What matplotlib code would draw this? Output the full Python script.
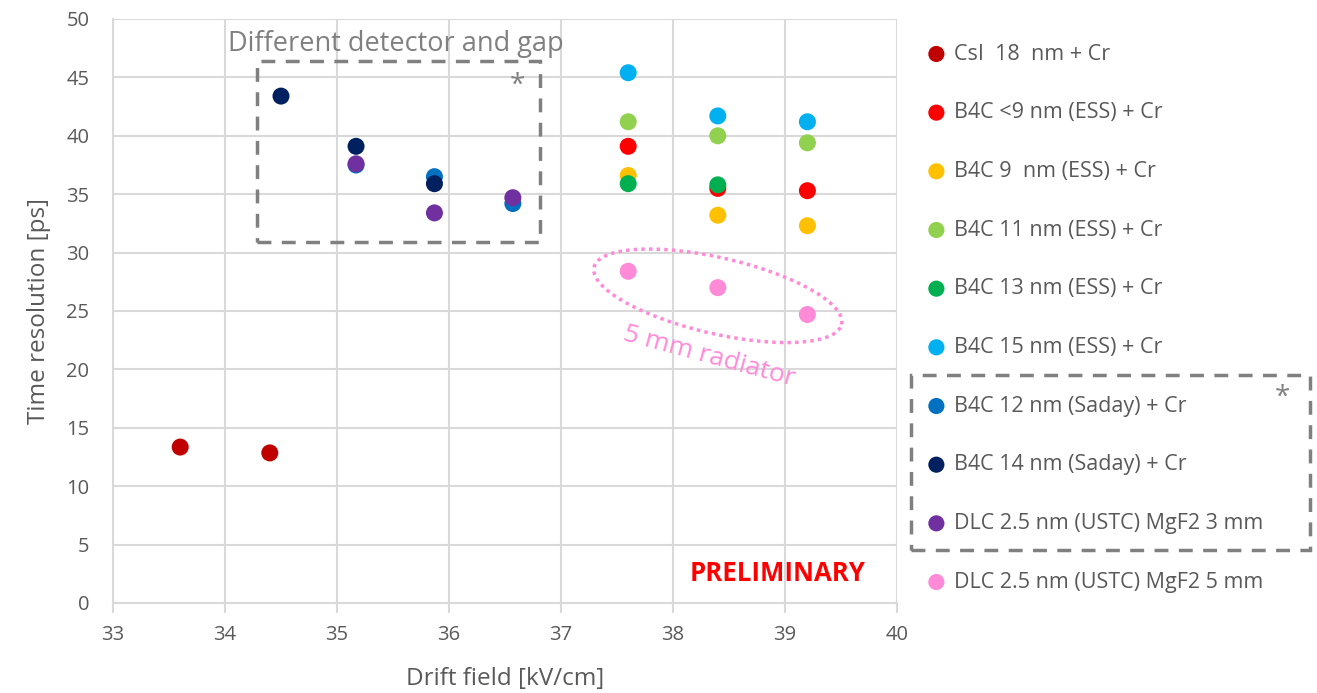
import matplotlib
matplotlib.use("Agg")
import matplotlib.pyplot as plt
from matplotlib.patches import Rectangle
import numpy as np

plt.rcParams['font.family'] = ['Open Sans', 'DejaVu Sans']

#--- Time resolution vs drift field for each photocathode
labels = ["CsI  18  nm + Cr",
          "B4C <9 nm (ESS) + Cr",
          "B4C 9  nm (ESS) + Cr",
          "B4C 11 nm (ESS) + Cr",
          "B4C 13 nm (ESS) + Cr",
          "B4C 15 nm (ESS) + Cr",
          "B4C 12 nm (Saday) + Cr",
          "B4C 14 nm (Saday) + Cr",
          "DLC 2.5 nm (USTC) MgF2 3 mm",
          "DLC 2.5 nm (USTC) MgF2 5 mm"]
colors = ["#C00000", "#FF0000", "#FFC000", "#92D050", "#00B050",
          "#00B0F0", "#0070C0", "#002060", "#7030A0", "#FF8AD8"]

field_csi = [33.6, 34.4]
res_csi = [13.35, 12.85]
field_ess = [37.6, 38.4, 39.2]
res_b4c_lt9 = [39.1, 35.5, 35.3]
res_b4c_9 = [36.6, 33.2, 32.3]
res_b4c_11 = [41.2, 40.0, 39.4]
field_b4c_13 = [37.6, 38.4]
res_b4c_13 = [35.9, 35.8]
res_b4c_15 = [45.4, 41.7, 41.2]
field_saday12 = [35.17, 35.87, 36.57]
res_saday12 = [37.5, 36.5, 34.2]
field_saday14 = [34.5, 35.17, 35.87]
res_saday14 = [43.4, 39.1, 35.9]
field_dlc3 = [35.17, 35.87, 36.57]
res_dlc3 = [37.6, 33.4, 34.7]
field_dlc5 = [37.6, 38.4, 39.2]
res_dlc5 = [28.4, 27.0, 24.7]

series = [(field_csi, res_csi), (field_ess, res_b4c_lt9), (field_ess, res_b4c_9),
          (field_ess, res_b4c_11), (field_b4c_13, res_b4c_13), (field_ess, res_b4c_15),
          (field_saday12, res_saday12), (field_saday14, res_saday14),
          (field_dlc3, res_dlc3), (field_dlc5, res_dlc5)]

W, H = 1317, 693
grey = "#595959"
fig = plt.figure(figsize=(W / 100, H / 100), dpi=100)
ax = fig.add_axes([113 / W, 1 - 603 / H, (897 - 113) / W, (603 - 19) / H])

# draw order: Saday 12 under the others in the boxed group
order = [0, 1, 2, 3, 5, 4, 6, 8, 7, 9]
handles = {}
for i in order:
    x, y = series[i]
    handles[i] = ax.scatter(x, y, s=150, color=colors[i], edgecolors='none',
                            zorder=3, label=labels[i])

ax.set_xlim(33, 40)
ax.set_ylim(0, 50)
ax.set_xticks(np.arange(33, 41, 1))
ax.set_yticks(np.arange(0, 51, 5))
ax.grid(True, color="#D9D9D9", linewidth=1.5)
ax.set_axisbelow(True)
for s in ax.spines.values():
    s.set_visible(False)
for side in ['left', 'bottom']:
    ax.spines[side].set_visible(True)
    ax.spines[side].set_color("#D9D9D9")
    ax.spines[side].set_linewidth(1.5)
ax.tick_params(axis='x', length=7, width=1.5, color="#D9D9D9", labelsize=14.5,
               labelcolor=grey, pad=9)
ax.tick_params(axis='y', length=0, labelsize=14.5, labelcolor=grey, pad=17)
ax.set_xlabel("Drift field [kV/cm]", fontsize=17.5, color=grey, labelpad=16)
ax.set_ylabel("Time resolution [ps]", fontsize=17.5, color=grey, labelpad=11)

# box around the different-detector points
ax.add_patch(Rectangle((34.29, 30.9), 36.81 - 34.29, 46.4 - 30.9, fill=False,
                       edgecolor="#808080", linestyle=(0, (4, 3)), linewidth=2.5,
                       zorder=2, clip_on=False))
ax.text(34.03, 47.9, "Different detector and gap", fontsize=19.5, color="#808080",
        ha='left', va='center')
ax.text(36.61, 44.3, "*", fontsize=20, color="#808080", ha='center', va='center')

# dotted ellipse around the 5 mm radiator points, defined in pixel space
sx = (897 - 113) / 7.0
sy = (603 - 19) / 50.0
cx, cy = 38.4, 26.3
a, b, th = 127, 38, np.deg2rad(-13)
t = np.linspace(0, 2 * np.pi, 300)
px = a * np.cos(th) * np.cos(t) - b * np.sin(th) * np.sin(t)
py = a * np.sin(th) * np.cos(t) + b * np.cos(th) * np.sin(t)
ax.plot(cx + px / sx, cy + py / sy, linestyle=(0, (1, 1.2)), color="#FF8AD8",
        linewidth=2.5, zorder=2)
ax.text(38.32, 21.1, "5 mm radiator", fontsize=19, color="#FF8AD8", rotation=-15,
        ha='center', va='center', rotation_mode='anchor')

ax.text(39.72, 2.5, "PRELIMINARY", fontsize=18.5, color="#FF0000", fontweight='bold',
        ha='right', va='center')

leg = fig.legend([handles[i] for i in range(10)], labels, loc='upper left',
                 bbox_to_anchor=(917 / W, 1 - 35 / H), frameon=False,
                 fontsize=15.5, labelcolor=grey, markerscale=0.95,
                 handlelength=1.0, handletextpad=0.3, labelspacing=1.75,
                 borderaxespad=0)

fig.patches.append(Rectangle((911 / W, 1 - 550 / H), (1310 - 911) / W, (550 - 375) / H,
                             transform=fig.transFigure, fill=False, edgecolor="#808080",
                             linestyle=(0, (4, 3)), linewidth=2.5))
fig.text(1282 / W, 1 - 398 / H, "*", fontsize=20, color="#808080",
         ha='center', va='center')

fig.savefig("out.png", dpi=100)
